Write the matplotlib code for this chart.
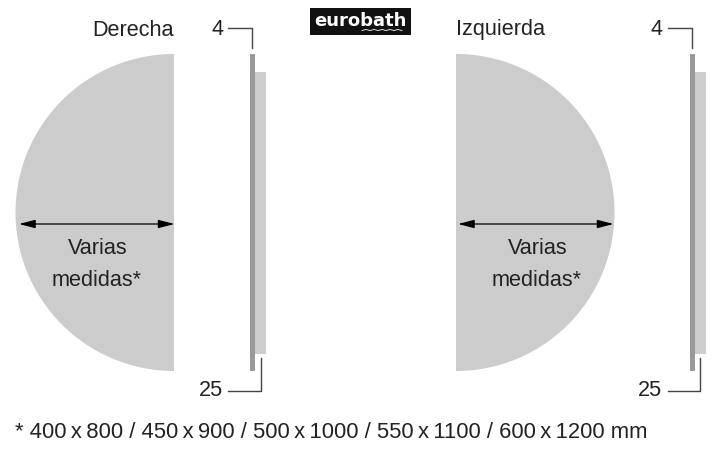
import numpy as np
import matplotlib
matplotlib.use("Agg")
import matplotlib.pyplot as plt
from matplotlib.patches import Wedge, Rectangle

plt.rcParams['font.family'] = ['Liberation Sans', 'DejaVu Sans']

# one entry per drawing: left one, right one
titles = ["Derecha", "Izquierda"]
title_x = [174, 456]
title_ha = ["right", "left"]
flat_x = [174, 456]
wedge_angles = [(90, 270), (-90, 90)]
radius = 158.5
center_y = 212.5
arrow_x = [(19, 174.5), (458, 613.5)]
label_x = [97, 537]
bar_x = [250, 689.5]
label_lines = ["Varias", "medidas*"]
top_dim = "4"
bottom_dim = "25"
footnote = ("* 400\u2009x\u2009800 / 450\u2009x\u2009900 / 500\u2009x\u20091000 / "
            "550\u2009x\u20091100 / 600\u2009x\u20091200 mm")
fill = "#cccccc"
dark = "#999999"
line = "#444444"
ink = "#222222"

fig = plt.figure(figsize=(7.2, 4.59), dpi=100)
ax = fig.add_axes([0, 0, 1, 1])
ax.set_xlim(0, 720)
ax.set_ylim(459, 0)
ax.axis("off")

for i in range(2):
    # wedge angles get mirrored by the flipped y axis, sides still come out right
    ax.add_patch(Wedge((flat_x[i], center_y), radius, wedge_angles[i][0], wedge_angles[i][1],
                       facecolor=fill, edgecolor="none"))
    ax.annotate("", xy=(arrow_x[i][0], 224), xytext=(arrow_x[i][1], 224),
                arrowprops=dict(arrowstyle="<|-|>,head_length=0.7,head_width=0.18", color="black",
                                lw=0.9, mutation_scale=14, shrinkA=0, shrinkB=0))
    ax.text(label_x[i] + 0.5, 249, label_lines[0], fontsize=15.6, ha="center", va="center", color=ink)
    ax.text(label_x[i], 281, label_lines[1], fontsize=15.6, ha="center", va="center", color=ink)
    ax.text(title_x[i], 30, titles[i], fontsize=15.6, ha=title_ha[i], va="center", color=ink)

    # side profile
    bx = bar_x[i]
    ax.add_patch(Rectangle((bx + 5, 72), 11, 282, facecolor=fill, edgecolor="none"))
    ax.add_patch(Rectangle((bx, 54), 5, 317, facecolor=dark, edgecolor="none"))

    # dimension leaders
    ax.plot([bx - 22, bx + 2, bx + 2], [28, 28, 48], color=line, lw=1)
    ax.plot([bx - 22, bx + 10.5, bx + 10.5], [390.5, 390.5, 358], color=line, lw=1)
    ax.text(bx - 27, 29.5, top_dim, fontsize=15.6, ha="right", va="center", color=ink)
    ax.text(bx - 27.5, 391, bottom_dim, fontsize=15.6, ha="right", va="center", color=ink)

# logo
ax.add_patch(Rectangle((309.5, 8), 101, 27, facecolor="#111111", edgecolor="none"))
ax.text(360, 20.5, "eurobath", fontsize=13, fontweight="bold", color="white",
        ha="center", va="center", family="DejaVu Sans")
wave_x = np.arange(362, 406, 4)
wave_y = [30.5, 29.5, 30.5, 29.5, 30.5, 29.5, 30.5, 29.5, 30.5, 29.5, 30.5]
ax.plot(wave_x, wave_y, color="white", lw=0.6)

ax.text(15, 432, footnote, fontsize=15.8, ha="left", va="center", color=ink)

fig.savefig("out.png", dpi=100)
